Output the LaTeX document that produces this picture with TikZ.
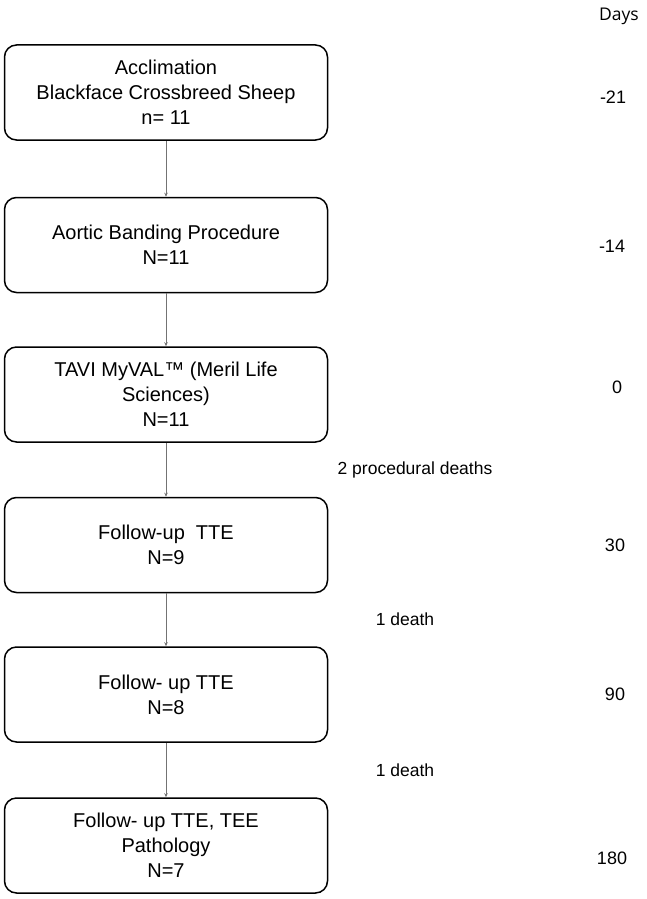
\documentclass[tikz,border=0pt]{standalone}
\usepackage{fontspec}
\setmainfont{Liberation Sans}
\newfontfamily\daysfont{Open Sans}
\usetikzlibrary{arrows.meta}
\begin{document}
\begin{tikzpicture}[x=1pt,y=-1pt,
  stagebox/.style={draw=black,line width=1.5pt,rounded corners=12pt,minimum width=323pt,minimum height=95pt,
    align=center,inner sep=0pt,font=\fontsize{20}{25}\selectfont},
  link/.style={draw=black!55,line width=0.9pt,-{Stealth[length=4pt,width=3.5pt]}},
  daynum/.style={font=\fontsize{18}{22}\selectfont,anchor=center},
  deathlbl/.style={font=\fontsize{17.5}{22}\selectfont,anchor=center}]
\useasboundingbox (0,0) rectangle (647,899);
\node[stagebox] (b1) at (166,92.5) {Acclimation\\Blackface Crossbreed Sheep\\n= 11};
\node[stagebox] (b2) at (166,245) {Aortic Banding Procedure\\N=11};
\node[stagebox] (b3) at (166,394.5) {TAVI MyVAL™ (Meril Life\\Sciences)\\N=11};
\node[stagebox] (b4) at (166,545) {Follow-up\ \ TTE\\N=9};
\node[stagebox] (b5) at (166,694.5) {Follow- up TTE\\N=8};
\node[stagebox] (b6) at (166,845.5) {Follow- up TTE, TEE\\Pathology\\N=7};
\draw[link] (b1) -- (b2);
\draw[link] (b2) -- (b3);
\draw[link] (b3) -- (b4);
\draw[link] (b4) -- (b5);
\draw[link] (b5) -- (b6);
\node[font=\daysfont\fontsize{17.5}{20}\selectfont] (days) at (619,16) {Days};
\node[daynum] (d1) at (613,97) {-21};
\node[daynum] (d2) at (612,246) {-14};
\node[daynum] (d3) at (617,387) {0};
\node[daynum] (d4) at (615,545) {30};
\node[daynum] (d5) at (615,694) {90};
\node[daynum] (d6) at (612,858) {180};
\node[deathlbl] (x1) at (415,470) {2 procedural deaths};
\node[deathlbl] (x2) at (405,619) {1 death};
\node[deathlbl] (x3) at (405,770) {1 death};
\end{tikzpicture}
\end{document}
